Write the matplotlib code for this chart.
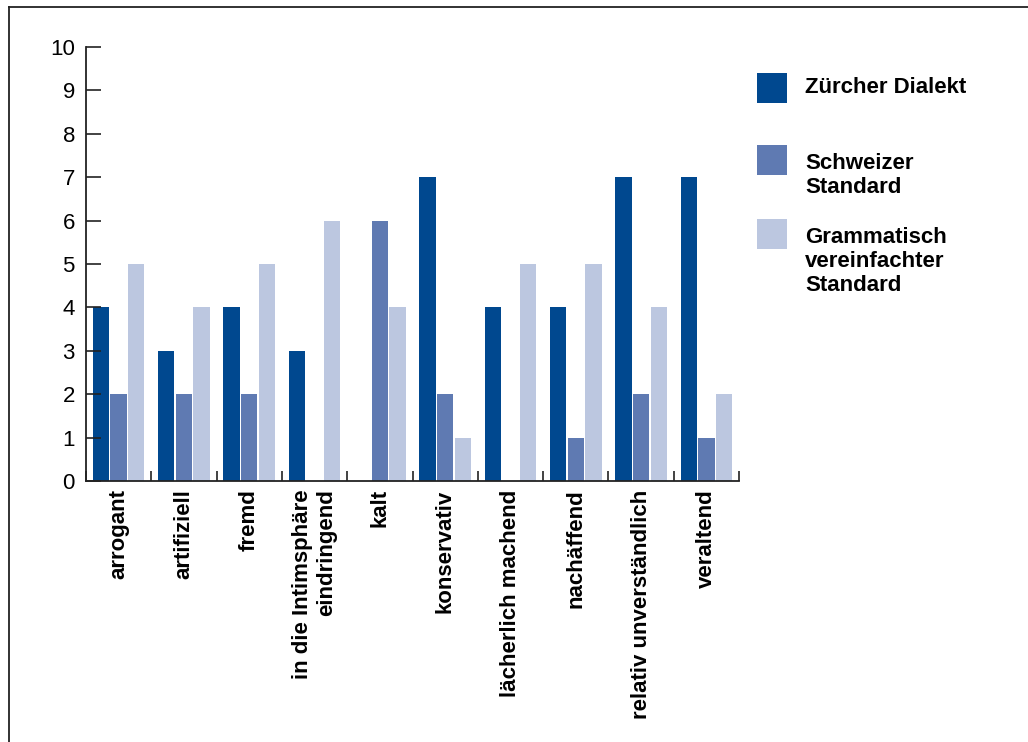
import matplotlib
matplotlib.use("Agg")
import matplotlib.pyplot as plt
from matplotlib.patches import Rectangle
from matplotlib.lines import Line2D
import numpy as np

plt.rcParams['font.family'] = ['Liberation Sans', 'DejaVu Sans']

categories = ["arrogant", "artifiziell", "fremd", "in die Intimsphäre\neindringend",
              "kalt", "konservativ", "lächerlich machend", "nachäffend",
              "relativ unverständlich", "veraltend"]
series_names = ["Zürcher Dialekt", "Schweizer\nStandard", "Grammatisch\nvereinfachter\nStandard"]
zuercher = [4, 3, 4, 3, 0, 7, 4, 4, 7, 7]
schweizer = [2, 2, 2, 0, 6, 2, 0, 1, 2, 1]
grammatisch = [5, 4, 5, 6, 4, 1, 5, 5, 4, 2]
yticks = list(range(0, 11))

colors = ["#00488f", "#5f7ab2", "#bcc7e0"]
series = [zuercher, schweizer, grammatisch]

W, H = 1028, 742
fig = plt.figure(figsize=(W / 100, H / 100), dpi=100)
ax = fig.add_axes([86 / W, 1 - 481 / H, (739 - 86) / W, (481 - 47) / H])

n = len(categories)
centers = np.arange(n) + 0.5
offsets = [-0.27, 0.0, 0.27]
for vals, off, c in zip(series, offsets, colors):
    ax.bar(centers + off, vals, width=0.25, color=c, linewidth=0)

ax.set_xlim(0, n)
ax.set_ylim(0, 10)
ax.set_yticks(yticks)
ax.set_yticklabels([str(t) for t in yticks], fontsize=16)
ax.tick_params(axis='y', direction='in', length=11, width=1.2, pad=8, colors='#222222', labelcolor='black')

ax.set_xticks(np.arange(0, n + 1))
ax.set_xticklabels([])
ax.tick_params(axis='x', which='major', direction='in', length=7, width=1.2, colors='#222222')
ax.set_xticks(centers, minor=True)
ax.set_xticklabels(categories, minor=True, rotation=90, fontsize=16, fontweight='bold',
                   va='top', ha='center', multialignment='right')
ax.tick_params(axis='x', which='minor', length=0, pad=6)

for s in ['top', 'right']:
    ax.spines[s].set_visible(False)
for s in ['left', 'bottom']:
    ax.spines[s].set_linewidth(1.3)
    ax.spines[s].set_color('#222222')

# legend drawn manually
leg_tops = [73, 145, 219]
text_shift = [4, 8, 8]
for top, sh, c, name in zip(leg_tops, text_shift, colors, series_names):
    fig.patches.append(Rectangle((757 / W, 1 - (top + 30) / H), 30 / W, 30 / H,
                                 transform=fig.transFigure, color=c, linewidth=0))
    fig.text(805 / W, 1 - (top + sh) / H, name, fontsize=16, fontweight='bold',
             va='top', ha='left', linespacing=1.2)

# frame lines
fig.lines.append(Line2D([9 / W, 9 / W], [0, 1 - 7 / H], transform=fig.transFigure,
                        color='#222222', linewidth=1.3))
fig.lines.append(Line2D([9 / W, 1], [1 - 7 / H, 1 - 7 / H], transform=fig.transFigure,
                        color='#222222', linewidth=1.3))

fig.savefig("out.png", dpi=100, facecolor='white')
